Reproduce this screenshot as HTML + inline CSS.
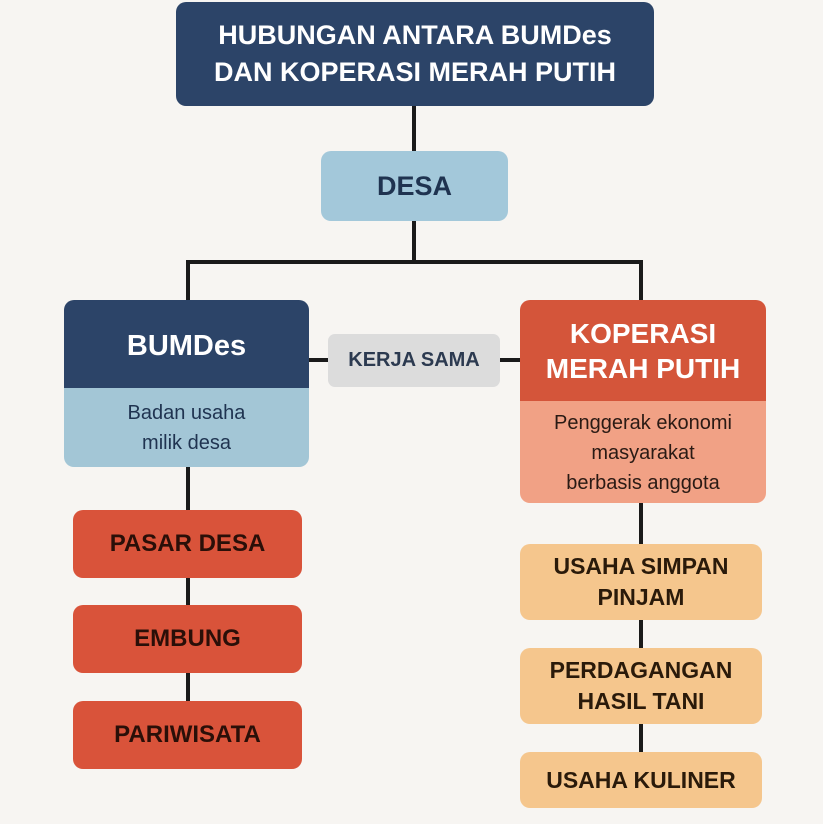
<!DOCTYPE html>
<html><head><meta charset="utf-8"><style>
body{margin:0;width:823px;height:824px;background:#f7f5f2;position:relative;overflow:hidden;font-family:"Liberation Sans",sans-serif;}
.b{position:absolute;box-sizing:border-box;display:flex;align-items:center;justify-content:center;text-align:center;font-weight:bold;border-radius:10px;}
.l{position:absolute;background:#1a1a1a;}
</style></head><body>
<div class="l" style="left:412px;top:100px;width:4px;height:56px"></div>
<div class="l" style="left:412px;top:218px;width:4px;height:46px"></div>
<div class="l" style="left:186px;top:260px;width:457px;height:4px"></div>
<div class="l" style="left:186px;top:260px;width:4px;height:45px"></div>
<div class="l" style="left:639px;top:260px;width:4px;height:45px"></div>
<div class="l" style="left:305px;top:358px;width:220px;height:4px"></div>
<div class="l" style="left:186px;top:460px;width:4px;height:250px"></div>
<div class="l" style="left:639px;top:495px;width:4px;height:265px"></div>

<div class="b" style="left:176px;top:2px;width:478px;height:104px;background:#2c4468;color:#fff;font-size:27px;line-height:37px">HUBUNGAN ANTARA BUMDes<br>DAN KOPERASI MERAH PUTIH</div>
<div class="b" style="left:321px;top:151px;width:187px;height:70px;background:#a3c8da;color:#1f3350;font-size:27px">DESA</div>

<div style="position:absolute;left:64px;top:300px;width:245px;height:167px;border-radius:10px;overflow:hidden;text-align:center">
<div style="height:88px;background:#2c4468;color:#fff;font-weight:bold;font-size:29px;line-height:92px">BUMDes</div>
<div style="height:79px;background:#a3c6d6;color:#1f3350;font-size:20px;line-height:30px;padding-top:10px;box-sizing:border-box">Badan usaha<br>milik desa</div></div>

<div class="b" style="left:328px;top:334px;width:172px;height:53px;background:#dcdcdc;color:#2c3a50;font-size:20px;border-radius:7px">KERJA SAMA</div>

<div style="position:absolute;left:520px;top:300px;width:246px;height:203px;border-radius:10px;overflow:hidden;text-align:center">
<div style="height:101px;background:#d4553a;color:#fff;font-weight:bold;font-size:28px;line-height:35px;padding-top:16px;box-sizing:border-box">KOPERASI<br>MERAH PUTIH</div>
<div style="height:102px;background:#f1a185;color:#2a1a14;font-size:20px;line-height:30px;padding-top:7px;box-sizing:border-box">Penggerak ekonomi<br>masyarakat<br>berbasis anggota</div></div>

<div class="b" style="left:73px;top:510px;width:229px;height:68px;background:#d9533a;color:#2a0f08;font-size:24px">PASAR DESA</div>
<div class="b" style="left:73px;top:605px;width:229px;height:68px;background:#d9533a;color:#2a0f08;font-size:24px">EMBUNG</div>
<div class="b" style="left:73px;top:701px;width:229px;height:68px;background:#d9533a;color:#2a0f08;font-size:24px">PARIWISATA</div>

<div class="b" style="left:520px;top:544px;width:242px;height:76px;background:#f5c68d;color:#2a1a0a;font-size:23px;line-height:31px">USAHA SIMPAN<br>PINJAM</div>
<div class="b" style="left:520px;top:648px;width:242px;height:76px;background:#f5c68d;color:#2a1a0a;font-size:23px;line-height:31px">PERDAGANGAN<br>HASIL TANI</div>
<div class="b" style="left:520px;top:752px;width:242px;height:56px;background:#f5c68d;color:#2a1a0a;font-size:23px">USAHA KULINER</div>
</body></html>
